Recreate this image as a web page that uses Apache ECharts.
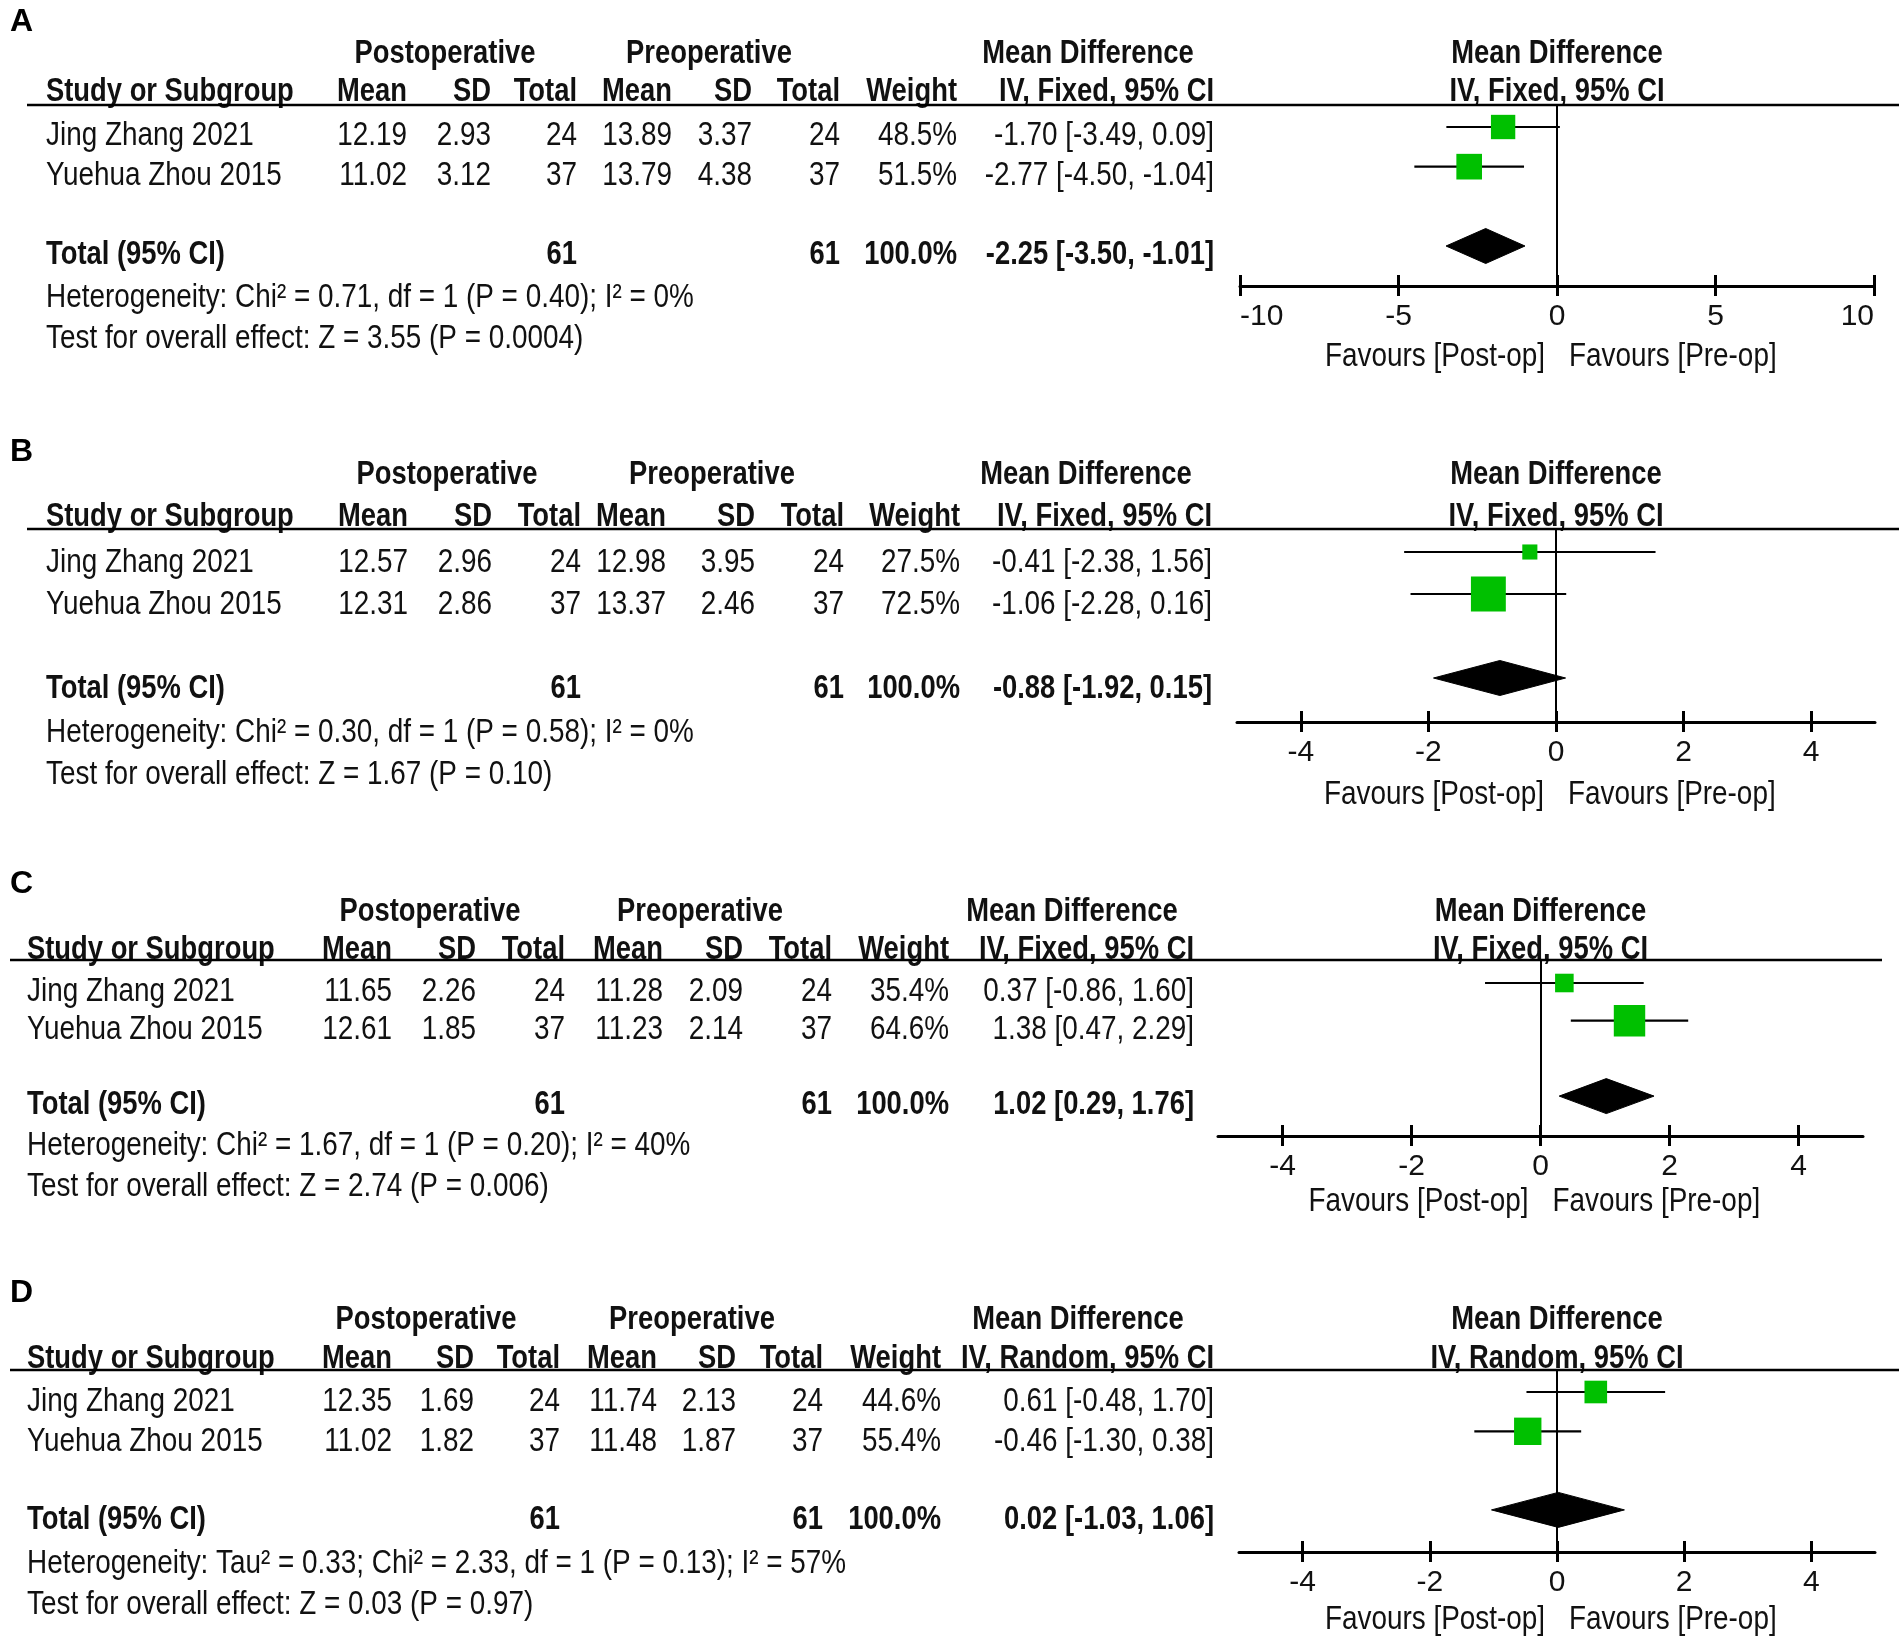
<!DOCTYPE html>
<html>
<head>
<meta charset="utf-8">
<title>Forest plots</title>
<script src="https://cdn.jsdelivr.net/npm/echarts@6/dist/echarts.min.js"></script>
<style>
  html, body { margin: 0; padding: 0; background: #fff; }
  #main { width: 1902px; height: 1641px; }
</style>
</head>
<body>
<div id="main"></div>
<script>
// ---- data ----
var panelNames = ['A', 'B', 'C', 'D'];
var studies = ['Jing Zhang 2021', 'Yuehua Zhou 2015'];
var postMean = [[12.19, 11.02], [12.57, 12.31], [11.65, 12.61], [12.35, 11.02]];
var postSD = [[2.93, 3.12], [2.96, 2.86], [2.26, 1.85], [1.69, 1.82]];
var postTotal = [[24, 37], [24, 37], [24, 37], [24, 37]];
var preMean = [[13.89, 13.79], [12.98, 13.37], [11.28, 11.23], [11.74, 11.48]];
var preSD = [[3.37, 4.38], [3.95, 2.46], [2.09, 2.14], [2.13, 1.87]];
var preTotal = [[24, 37], [24, 37], [24, 37], [24, 37]];
var weights = [[48.5, 51.5], [27.5, 72.5], [35.4, 64.6], [44.6, 55.4]];
var md = [[-1.70, -2.77], [-0.41, -1.06], [0.37, 1.38], [0.61, -0.46]];
var ciLow = [[-3.49, -4.50], [-2.38, -2.28], [-0.86, 0.47], [-0.48, -1.30]];
var ciHigh = [[0.09, -1.04], [1.56, 0.16], [1.60, 2.29], [1.70, 0.38]];
var totalMd = [-2.25, -0.88, 1.02, 0.02];
var totalLow = [-3.50, -1.92, 0.29, -1.03];
var totalHigh = [-1.01, 0.15, 1.76, 1.06];
var methods = ['IV, Fixed, 95% CI', 'IV, Fixed, 95% CI', 'IV, Fixed, 95% CI', 'IV, Random, 95% CI'];
var heterogeneity = [
  'Heterogeneity: Chi\u00b2 = 0.71, df = 1 (P = 0.40); I\u00b2 = 0%',
  'Heterogeneity: Chi\u00b2 = 0.30, df = 1 (P = 0.58); I\u00b2 = 0%',
  'Heterogeneity: Chi\u00b2 = 1.67, df = 1 (P = 0.20); I\u00b2 = 40%',
  'Heterogeneity: Tau\u00b2 = 0.33; Chi\u00b2 = 2.33, df = 1 (P = 0.13); I\u00b2 = 57%'
];
var overallEffect = [
  'Test for overall effect: Z = 3.55 (P = 0.0004)',
  'Test for overall effect: Z = 1.67 (P = 0.10)',
  'Test for overall effect: Z = 2.74 (P = 0.006)',
  'Test for overall effect: Z = 0.03 (P = 0.97)'
];
var axisMin = [-10, -5, -5, -5];
var axisMax = [10, 5, 5, 5];
var axisTicks = [[-10, -5, 0, 5, 10], [-4, -2, 0, 2, 4], [-4, -2, 0, 2, 4], [-4, -2, 0, 2, 4]];
var groupHeads = ['Postoperative', 'Preoperative', 'Mean Difference'];
var colHeads = ['Study or Subgroup', 'Mean', 'SD', 'Total', 'Mean', 'SD', 'Total', 'Weight'];
var favours = ['Favours [Post-op]', 'Favours [Pre-op]'];

// ---- layout (pixels) ----
// row: centre of first study text line, shift: plot marks sit a bit above the text
var layout = [
  { label: 22, h1: 52, h2: 90, rule: 105, row: 134, pitch: 39.67, shift: -7, het: 296, test: 337, axis: 286, fav: 355,
    ruleX: [27, 1899], plotX: [1240, 1874], cols: [46, 407, 491, 577, 672, 752, 840, 957, 1214], grp: [445, 709, 1088] },
  { label: 452, h1: 473, h2: 515, rule: 529, row: 561, pitch: 42, shift: -9, het: 731, test: 773, axis: 722, fav: 793,
    ruleX: [27, 1899], plotX: [1237, 1875], cols: [46, 408, 492, 581, 666, 755, 844, 960, 1212], grp: [447, 712, 1086] },
  { label: 884, h1: 910, h2: 948, rule: 960, row: 990, pitch: 37.7, shift: -7, het: 1144, test: 1185, axis: 1136, fav: 1200,
    ruleX: [10, 1882], plotX: [1218, 1863], cols: [27, 392, 476, 565, 663, 743, 832, 949, 1194], grp: [430, 700, 1072] },
  { label: 1293, h1: 1318, h2: 1357, rule: 1370, row: 1400, pitch: 39.3, shift: -8, het: 1562, test: 1603, axis: 1552, fav: 1618,
    ruleX: [10, 1899], plotX: [1239, 1875], cols: [27, 392, 474, 560, 657, 736, 823, 941, 1214], grp: [426, 692, 1078] }
];

// no narrow font installed: Liberation Sans squeezed horizontally instead
var FONT = '"Liberation Sans", Arial, sans-serif';
var SIZE = 34;
var SQUEEZE = 0.82;
var SQUEEZE_BOLD = 0.805;
var TEXT_DY = 2;   // canvas 'middle' sits digits a touch high
var INK = '#111';
var GREEN = '#00c000';
var TOTAL_ROW = 3;

function fmtCI(m, l, h) {
  return m.toFixed(2) + ' [' + l.toFixed(2) + ', ' + h.toFixed(2) + ']';
}

function txt(str, x, y, align, bold) {
  return {
    type: 'text', x: x, y: y + TEXT_DY, scaleX: bold ? SQUEEZE_BOLD : SQUEEZE, silent: true,
    style: {
      text: String(str), fill: INK, align: align || 'left', verticalAlign: 'middle',
      font: (bold ? 'bold ' : '') + SIZE + 'px ' + FONT
    }
  };
}

function sum(a) {
  return a.reduce(function (s, v) { return s + v; }, 0);
}

var graphics = [];
var grids = [], xAxes = [], yAxes = [], series = [];

panelNames.forEach(function (name, p) {
  var L = layout[p];
  var c = L.cols;
  var rowY = function (r) { return L.row + r * L.pitch; };
  var zeroX = L.plotX[0] + (0 - axisMin[p]) / (axisMax[p] - axisMin[p]) * (L.plotX[1] - L.plotX[0]);

  // panel letter
  graphics.push({
    type: 'text', x: 10, y: L.label, silent: true,
    style: { text: name, fill: '#000', align: 'left', verticalAlign: 'middle', font: 'bold 32px ' + FONT }
  });

  // table headers
  graphics.push(txt(groupHeads[0], L.grp[0], L.h1, 'center', true));
  graphics.push(txt(groupHeads[1], L.grp[1], L.h1, 'center', true));
  graphics.push(txt(groupHeads[2], L.grp[2], L.h1, 'center', true));
  graphics.push(txt(groupHeads[2], zeroX, L.h1, 'center', true));
  colHeads.forEach(function (h, k) {
    graphics.push(txt(h, c[k], L.h2, k === 0 ? 'left' : 'right', true));
  });
  graphics.push(txt(methods[p], c[8], L.h2, 'right', true));
  graphics.push(txt(methods[p], zeroX, L.h2, 'center', true));

  // rule under the headers
  graphics.push({
    type: 'line', silent: true,
    shape: { x1: L.ruleX[0], y1: L.rule, x2: L.ruleX[1], y2: L.rule },
    style: { stroke: '#000', lineWidth: 2.5 }
  });

  // study rows
  studies.forEach(function (s, i) {
    var y = rowY(i);
    graphics.push(txt(s, c[0], y, 'left'));
    graphics.push(txt(postMean[p][i].toFixed(2), c[1], y, 'right'));
    graphics.push(txt(postSD[p][i].toFixed(2), c[2], y, 'right'));
    graphics.push(txt(postTotal[p][i], c[3], y, 'right'));
    graphics.push(txt(preMean[p][i].toFixed(2), c[4], y, 'right'));
    graphics.push(txt(preSD[p][i].toFixed(2), c[5], y, 'right'));
    graphics.push(txt(preTotal[p][i], c[6], y, 'right'));
    graphics.push(txt(weights[p][i].toFixed(1) + '%', c[7], y, 'right'));
    graphics.push(txt(fmtCI(md[p][i], ciLow[p][i], ciHigh[p][i]), c[8], y, 'right'));
  });

  // total row
  var ty = rowY(TOTAL_ROW);
  graphics.push(txt('Total (95% CI)', c[0], ty, 'left', true));
  graphics.push(txt(sum(postTotal[p]), c[3], ty, 'right', true));
  graphics.push(txt(sum(preTotal[p]), c[6], ty, 'right', true));
  graphics.push(txt(sum(weights[p]).toFixed(1) + '%', c[7], ty, 'right', true));
  graphics.push(txt(fmtCI(totalMd[p], totalLow[p], totalHigh[p]), c[8], ty, 'right', true));

  graphics.push(txt(heterogeneity[p], c[0], L.het, 'left'));
  graphics.push(txt(overallEffect[p], c[0], L.test, 'left'));

  graphics.push(txt(favours[0], zeroX - 12, L.fav, 'right'));
  graphics.push(txt(favours[1], zeroX + 12, L.fav, 'left'));

  // ---- forest plot ----
  grids.push({
    left: L.plotX[0], width: L.plotX[1] - L.plotX[0],
    top: L.rule, height: L.axis - L.rule
  });
  var tickStyle = { color: '#000', width: 3 };
  xAxes.push({
    type: 'value', gridIndex: p, position: 'bottom',
    min: axisMin[p], max: axisMax[p],
    splitLine: { show: false },
    axisLine: { show: true, onZero: false, lineStyle: { color: '#000', width: 3 } },
    axisTick: { show: true, length: 10, lineStyle: tickStyle, customValues: axisTicks[p] },
    axisLabel: {
      show: true, margin: 16, color: INK, fontFamily: FONT, fontSize: 30,
      customValues: axisTicks[p],
      alignMinLabel: p === 0 ? 'left' : 'center',
      alignMaxLabel: p === 0 ? 'right' : 'center'
    }
  });
  // second axis only to draw the upper half of each tick
  xAxes.push({
    type: 'value', gridIndex: p, position: 'bottom', offset: 0,
    min: axisMin[p], max: axisMax[p],
    splitLine: { show: false },
    axisLine: { show: false, onZero: false },
    axisTick: { show: true, inside: true, length: 11, lineStyle: tickStyle, customValues: axisTicks[p] },
    axisLabel: { show: false }
  });
  var markRow = L.row + L.shift;
  yAxes.push({
    type: 'value', gridIndex: p, inverse: true, show: false,
    min: (L.rule - markRow) / L.pitch, max: (L.axis - markRow) / L.pitch
  });

  var rows = studies.map(function (s, i) {
    return [md[p][i], ciLow[p][i], ciHigh[p][i], i, weights[p][i], 0];
  });
  rows.push([totalMd[p], totalLow[p], totalHigh[p], TOTAL_ROW, sum(weights[p]), 1]);

  series.push({
    type: 'custom',
    xAxisIndex: 2 * p, yAxisIndex: p,
    clip: false, silent: true,
    data: rows,
    renderItem: function (params, api) {
      var m = api.value(0), lo = api.value(1), hi = api.value(2), r = api.value(3);
      var w = api.value(4), kind = api.value(5);
      var pm = api.coord([m, r]), pl = api.coord([lo, r]), ph = api.coord([hi, r]);
      if (kind === 1) {
        var hh = 17.5;
        return {
          type: 'polygon',
          shape: { points: [[pl[0], pl[1]], [pm[0], pm[1] - hh], [ph[0], ph[1]], [pm[0], pm[1] + hh]] },
          style: { fill: '#000', stroke: '#000', lineWidth: 1 }
        };
      }
      var side = 3 + 0.44 * w;
      return {
        type: 'group',
        children: [
          { type: 'line', shape: { x1: pl[0], y1: pl[1], x2: ph[0], y2: ph[1] }, style: { stroke: '#000', lineWidth: 2.2 } },
          { type: 'rect', shape: { x: pm[0] - side / 2, y: pm[1] - side / 2, width: side, height: side }, style: { fill: GREEN } }
        ]
      };
    },
    markLine: {
      silent: true, symbol: 'none', animation: false,
      label: { show: false },
      lineStyle: { color: '#000', width: 2, type: 'solid' },
      data: [{ xAxis: 0 }]
    },
    z: 3
  });
});

var chart = echarts.init(document.getElementById('main'));
chart.setOption({
  backgroundColor: '#fff',
  animation: false,
  grid: grids,
  xAxis: xAxes,
  yAxis: yAxes,
  series: series,
  graphic: graphics
});
</script>
</body>
</html>
